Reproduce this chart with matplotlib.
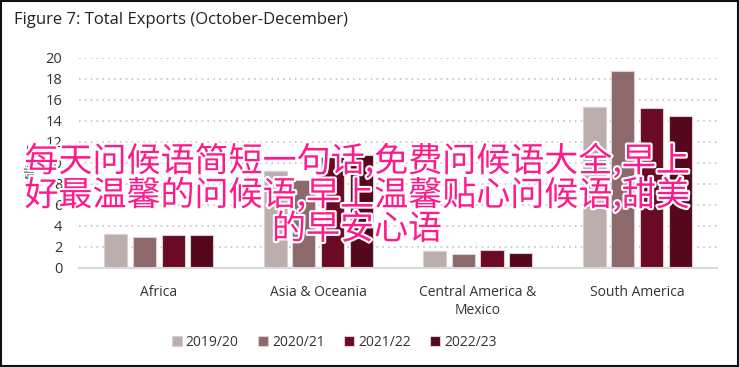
import numpy as np
import matplotlib
matplotlib.use("Agg")
import matplotlib.pyplot as plt
import matplotlib.patheffects as pe
from matplotlib.patches import Rectangle

# -- Donnees
regions = ["Africa", "Asia & Oceania", "Central America &\nMexico", "South America"]
years = ["2019/20", "2020/21", "2021/22", "2022/23"]
exports_1920 = [3.2, 9.2, 1.6, 15.3]
exports_2021 = [2.9, 8.4, 1.3, 18.8]
exports_2122 = [3.1, 10.6, 1.7, 15.2]
exports_2223 = [3.1, 10.8, 1.4, 14.5]
yticks = [0, 2, 4, 6, 8, 10, 12, 14, 16, 18, 20]

colors = ["#bdaeae", "#8e696c", "#6b0a24", "#55081c"]
overlay = "每天问候语简短一句话,免费问候语大全,早上\n好最温馨的问候语,早上温馨贴心问候语,甜美\n的早安心语"

plt.rcParams["font.family"] = ["Open Sans", "DejaVu Sans"]

fig = plt.figure(figsize=(7.39, 3.67), dpi=100)
ax = fig.add_axes([0.107, 0.270, 0.863, 0.572])

series = [exports_1920, exports_2021, exports_2122, exports_2223]
x = np.arange(len(regions))
pitch = 0.18
width = 0.145
for i, vals in enumerate(series):
    ax.bar(x + (i - 1.5) * pitch, vals, width, color=colors[i],
           edgecolor="#d8d0d0", linewidth=0.8, label=years[i], zorder=3)

ax.set_xlim(-0.5, len(regions) - 0.5)
ax.set_ylim(0, 20)
ax.set_yticks(yticks)
ax.yaxis.grid(True, linestyle=(0, (1, 2.5)), color="#c4c4c4", linewidth=1.2, zorder=0)
ax.set_xticks(x)
ax.set_xticklabels(regions, fontsize=10, color="#333333", linespacing=1.3)
ax.tick_params(axis="y", labelsize=10.5, labelcolor="#333333", length=0, pad=12)
ax.tick_params(axis="x", length=0, pad=12)
for s in ["top", "right", "left"]:
    ax.spines[s].set_visible(False)
ax.spines["bottom"].set_color("#d9d9d9")
ax.spines["bottom"].set_linewidth(1.5)
ax.spines["bottom"].set_zorder(4)

ax.set_ylabel("Millions", fontsize=8.5, color="#444444", labelpad=6)

fig.text(0.019, 0.945, "Figure 7: Total Exports (October-December)", fontsize=12,
         color="#222222", va="center", ha="left")

ax.legend(loc="upper center", bbox_to_anchor=(0.40, -0.26), ncol=4, frameon=False,
          fontsize=10, handlelength=0.7, handleheight=0.7, handletextpad=0.3,
          columnspacing=1.4, labelcolor="#333333")

# -- Cadre
fig.patches.append(Rectangle((0.002, 0.003), 0.996, 0.994, transform=fig.transFigure,
                             fill=False, edgecolor="#111111", linewidth=1.5))

# -- Texte superpose
fig.text(0.483, 0.467, overlay, fontsize=24.5, color="#ff1a8c", ha="center", va="center",
         family=["Noto Sans CJK SC", "DejaVu Sans"], linespacing=0.95,
         path_effects=[pe.withStroke(linewidth=3, foreground="white")], zorder=10)

fig.savefig("out.png", dpi=100)
